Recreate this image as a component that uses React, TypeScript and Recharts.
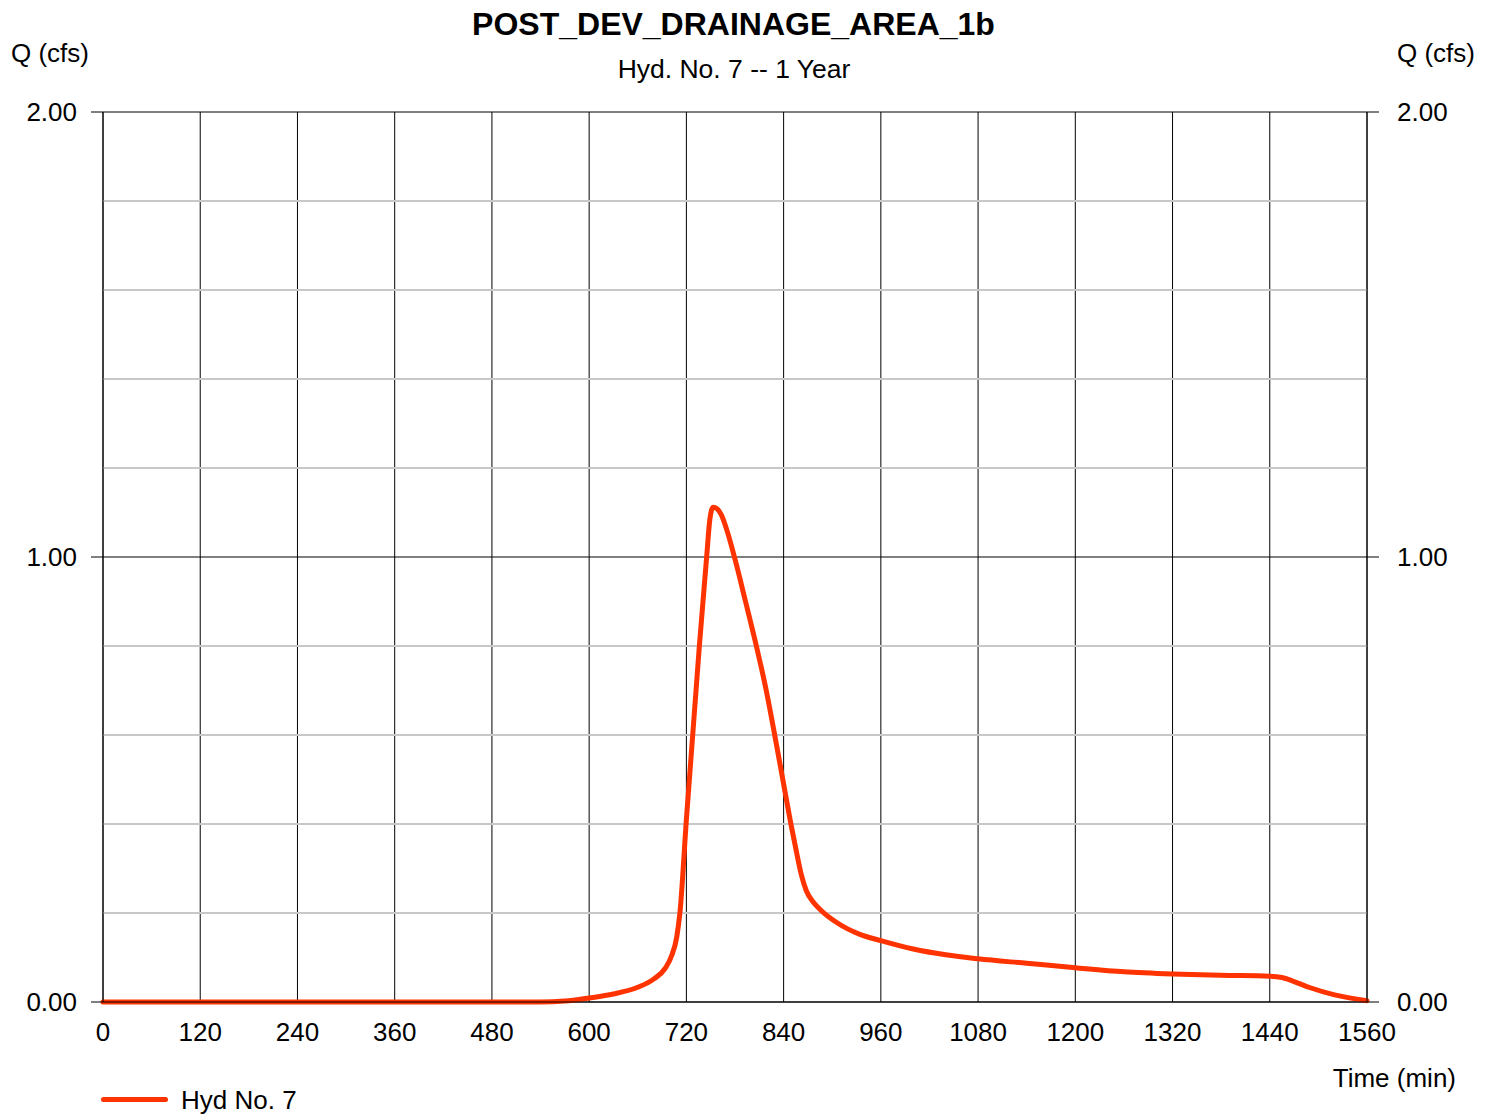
import React from 'react';
import { LineChart, Line, XAxis, YAxis, CartesianGrid, ReferenceLine } from 'recharts';

// hydrograph (time in min, Q in cfs)
const times = [
  0, 120, 240, 360, 480, 540, 570, 600, 630, 660, 680, 694, 702, 708, 712, 720, 736, 745,
  749, 753, 758, 763, 770, 780, 793, 807, 818, 829, 839, 849, 856, 862, 868, 876, 885, 906, 934, 960,
  1000, 1040, 1080, 1140, 1200, 1260, 1320, 1380, 1440, 1455, 1470, 1490, 1520, 1560,
];
const flows = [
  0, 0, 0, 0, 0, 0, 0.002, 0.009, 0.018, 0.033, 0.052, 0.076, 0.105, 0.145, 0.2, 0.41, 0.8, 1.0,
  1.085, 1.112, 1.108, 1.095, 1.06, 0.995, 0.9, 0.795, 0.705, 0.6, 0.5, 0.4, 0.336, 0.285, 0.25, 0.226, 0.208, 0.178, 0.152, 0.138,
  0.119, 0.106, 0.097, 0.087, 0.077, 0.068, 0.063, 0.06, 0.058, 0.055, 0.046, 0.032, 0.016, 0.003,
];

const timeTicks = [0, 120, 240, 360, 480, 600, 720, 840, 960, 1080, 1200, 1320, 1440, 1560];
const qTicks = [0, 1, 2];
const minorGrid = [0.2, 0.4, 0.6, 0.8, 1.2, 1.4, 1.6, 1.8];

const title = 'POST_DEV_DRAINAGE_AREA_1b';
const subtitle = 'Hyd. No. 7 -- 1 Year';
const seriesName = 'Hyd No. 7';

const data = times.map((t, i) => ({ time: t, q: flows[i] }));

const FONT = '"Liberation Sans", Arial, sans-serif';
const LINE_COLOR = '#ff3300';

const txt: React.CSSProperties = {
  position: 'absolute',
  fontFamily: FONT,
  fontSize: 26,
  color: '#000',
  whiteSpace: 'nowrap',
  lineHeight: 1,
};

const App: React.FC = () => {
  return (
    <div style={{ position: 'absolute', left: 0, top: 0, width: 1496, height: 1114, background: '#fff' }}>
      <div style={{ ...txt, left: 0, width: 1467, top: 8, textAlign: 'center', fontSize: 32, fontWeight: 'bold' }}>
        {title}
      </div>
      <div style={{ ...txt, left: 0, width: 1468, top: 56, textAlign: 'center', fontSize: 26.5 }}>{subtitle}</div>
      <div style={{ ...txt, left: 11, top: 40 }}>Q (cfs)</div>
      <div style={{ ...txt, left: 1397, top: 40 }}>Q (cfs)</div>
      <div style={{ ...txt, right: 1496 - 1456, top: 1065 }}>Time (min)</div>

      <LineChart
        width={1496}
        height={1114}
        data={data}
        margin={{ top: 112, left: 43, right: 69, bottom: 72 }}
        style={{ fontFamily: FONT }}
      >
        {minorGrid.map((v) => (
          <ReferenceLine key={v} y={v} yAxisId="left" stroke="#c8c8c8" strokeWidth={2} />
        ))}
        <CartesianGrid stroke="#000" strokeWidth={1} yAxisId="left" />
        <XAxis
          dataKey="time"
          type="number"
          domain={[0, 1560]}
          ticks={timeTicks}
          height={40}
          tickLine={false}
          tickSize={0}
          tickMargin={21}
          axisLine={{ stroke: '#000' }}
          tick={{ fill: '#000', fontSize: 26 }}
        />
        <YAxis
          yAxisId="left"
          domain={[0, 2]}
          ticks={qTicks}
          width={60}
          tickSize={12}
          tickMargin={14}
          tickFormatter={(v: number) => v.toFixed(2)}
          axisLine={{ stroke: '#000' }}
          tickLine={{ stroke: '#000' }}
          tick={{ fill: '#000', fontSize: 26 }}
        />
        <YAxis
          yAxisId="right"
          orientation="right"
          domain={[0, 2]}
          ticks={qTicks}
          width={60}
          tickSize={12}
          tickMargin={18}
          tickFormatter={(v: number) => v.toFixed(2)}
          axisLine={{ stroke: '#000' }}
          tickLine={{ stroke: '#000' }}
          tick={{ fill: '#000', fontSize: 26 }}
        />
        {/* invisible copy so the right axis has a series bound to it */}
        <Line
          yAxisId="right"
          dataKey="q"
          stroke="none"
          dot={false}
          activeDot={false}
          legendType="none"
          isAnimationActive={false}
        />
        <Line
          yAxisId="left"
          type="monotone"
          dataKey="q"
          name={seriesName}
          stroke={LINE_COLOR}
          strokeWidth={5}
          strokeLinecap="round"
          dot={false}
          isAnimationActive={false}
        />
      </LineChart>

      <div style={{ position: 'absolute', left: 101, top: 1097, width: 67, height: 5, borderRadius: 3, background: LINE_COLOR }} />
      <div style={{ ...txt, left: 181, top: 1087 }}>{seriesName}</div>
    </div>
  );
};

export default App;
